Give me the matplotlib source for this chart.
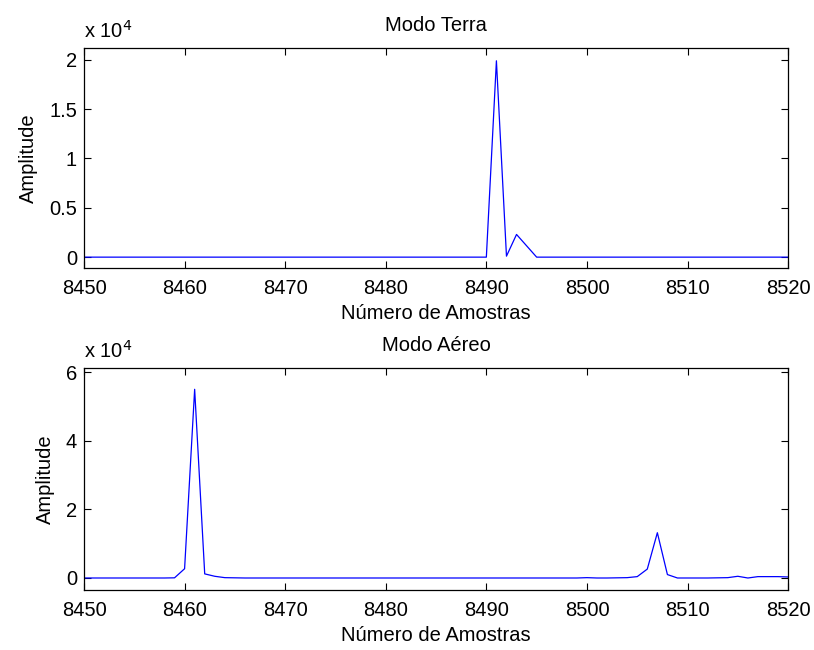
import matplotlib.pyplot as plt
from matplotlib.ticker import FuncFormatter

plt.rcParams['font.family'] = ['Liberation Sans', 'DejaVu Sans']

# amostras 8450..8520
amostras = list(range(8450, 8521))

# Modo Terra
terra = [0] * 41 + [19900, 100, 2300, 1150] + [0] * 26

# Modo Aereo
aereo = ([0] * 9 + [50, 2700, 55000, 1200, 500, 100, 50] + [0] * 34
         + [100, 0, 0, 50, 100, 400, 2600, 13200, 1000, 0,
            0, 0, 0, 50, 100, 500, 0, 400, 400, 400, 300])

titulos = ["Modo Terra", "Modo Aéreo"]
xticks = [8450, 8460, 8470, 8480, 8490, 8500, 8510, 8520]
yticks_terra = [0, 5000, 10000, 15000, 20000]
yticks_aereo = [0, 20000, 40000, 60000]

fig = plt.figure(figsize=(8.14, 6.5), dpi=100)
ax1 = fig.add_axes([0.1032, 0.5877, 0.865, 0.3385])
ax2 = fig.add_axes([0.1032, 0.0923, 0.865, 0.3415])

fmt = FuncFormatter(lambda v, _: f"{v / 1e4:g}")
fs = 14.5

for ax, y, tit, yt, ylim in [
        (ax1, terra, titulos[0], yticks_terra, (-1100, 21200)),
        (ax2, aereo, titulos[1], yticks_aereo, (-3500, 61200))]:
    ax.plot(amostras, y, color="blue", linewidth=0.9)
    ax.set_xlim(8450, 8520)
    ax.set_ylim(*ylim)
    ax.set_xticks(xticks)
    ax.set_yticks(yt)
    ax.yaxis.set_major_formatter(fmt)
    ax.tick_params(direction="in", top=True, right=True, length=5,
                   labelsize=fs, width=0.8, pad=5)
    ax.tick_params(axis="x", pad=8)
    ax.set_title(tit, fontsize=fs, pad=12)
    ax.set_xlabel("Número de Amostras", fontsize=fs, labelpad=4)
    ax.set_ylabel("Amplitude", fontsize=fs, labelpad=8)
    ax.text(0.0, 1.03, "x 10$^4$", transform=ax.transAxes, fontsize=fs,
            ha="left", va="bottom")
    for s in ax.spines.values():
        s.set_linewidth(0.9)

fig.savefig("out.png", dpi=100)
